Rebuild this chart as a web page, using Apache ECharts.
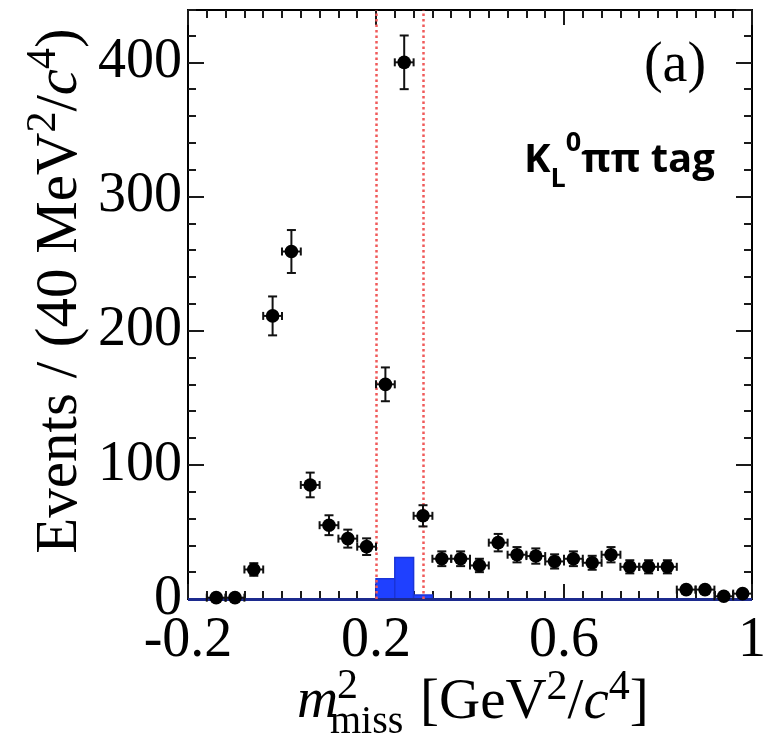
<!DOCTYPE html>
<html><head><meta charset="utf-8">
<script src="https://cdn.jsdelivr.net/npm/echarts@6/dist/echarts.min.js"></script>
<style>html,body{margin:0;padding:0;background:#fff}#chart{width:769px;height:741px}</style>
</head><body><div id="chart"></div>
<script>
// ---- data ----
const binCenters = [-0.14, -0.10, -0.06, -0.02, 0.02, 0.06, 0.10, 0.14, 0.18, 0.22, 0.26, 0.30, 0.34, 0.38, 0.42, 0.46, 0.50, 0.54, 0.58, 0.62, 0.66, 0.70, 0.74, 0.78, 0.82, 0.86, 0.90, 0.94, 0.98];
const counts     = [1, 1, 22, 211, 259, 85, 55, 45, 39, 160, 400, 62, 30, 30, 25, 42, 33, 32, 28, 30, 27, 33, 24, 24, 24, 7, 7, 2, 4];
const countErrors= [1, 1, 4.7, 14.5, 16, 9.2, 7.4, 6.7, 6.2, 12.6, 20, 7.9, 5.5, 5.5, 5, 6.5, 5.7, 5.7, 5.3, 5.5, 5.2, 5.7, 4.9, 4.9, 4.9, 2.6, 2.6, 1.4, 2];
const binHalfWidth = 0.02;
const histLowEdges = [-0.2, -0.16, -0.12, -0.08, -0.04, 0, 0.04, 0.08, 0.12, 0.16, 0.2, 0.24, 0.28, 0.32, 0.36, 0.4, 0.44, 0.48, 0.52, 0.56, 0.6, 0.64, 0.68, 0.72, 0.76, 0.8, 0.84, 0.88, 0.92, 0.96];
const histCounts   = [0, 0, 0, 0, 0, 0, 0, 0, 0, 0, 15, 31, 3, 0, 0, 0, 0, 0, 0, 0, 0, 0, 0, 0, 0, 0, 0, 0, 0, 0];
const histBinWidth = 0.04;
const signalWindow = [0.2, 0.3];
const xMin = -0.2, xMax = 1.0, xMajor = 0.4, xMinor = 0.04;
const yMin = 0, yMax = 439, yMajor = 100, yMinor = 20;

const SERIF = 'Liberation Serif';
const chart = echarts.init(document.getElementById('chart'));

function renderHist(params, api) {
  const h = api.value(2);
  if (!h) return null;
  const p0 = api.coord([api.value(0), h]);
  const p1 = api.coord([api.value(1), 0]);
  return {type: 'rect', shape: {x: p0[0], y: p0[1], width: p1[0] - p0[0], height: p1[1] - p0[1]},
          style: {fill: '#1f40ff', stroke: '#1a34d8', lineWidth: 1.5}};
}
function renderPoint(params, api) {
  const x = api.value(0), y = api.value(1), e = api.value(2);
  const c = api.coord([x, y]);
  const t = api.coord([x, y + e]), b = api.coord([x, y - e]);
  const l = api.coord([x - binHalfWidth, y]), r = api.coord([x + binHalfWidth, y]);
  const s = {stroke: '#111', lineWidth: 2};
  const cap = 4.5, hcap = 4;
  return {type: 'group', children: [
    {type: 'line', shape: {x1: t[0], y1: t[1], x2: b[0], y2: b[1]}, style: s},
    {type: 'line', shape: {x1: t[0] - cap, y1: t[1], x2: t[0] + cap, y2: t[1]}, style: s},
    {type: 'line', shape: {x1: b[0] - cap, y1: b[1], x2: b[0] + cap, y2: b[1]}, style: s},
    {type: 'line', shape: {x1: l[0], y1: l[1], x2: r[0], y2: r[1]}, style: s},
    {type: 'line', shape: {x1: l[0], y1: l[1] - hcap, x2: l[0], y2: l[1] + hcap}, style: s},
    {type: 'line', shape: {x1: r[0], y1: r[1] - hcap, x2: r[0], y2: r[1] + hcap}, style: s},
    {type: 'circle', shape: {cx: c[0], cy: c[1], r: 6.8}, style: {fill: '#000'}}
  ]};
}

const lineBlack = {color: '#000', width: 2};
function xAx(pos, interval, tickLen, showLabel) {
  return {type: 'value', position: pos, min: xMin, max: xMax, interval: interval,
    axisLine: {show: true, onZero: false, lineStyle: lineBlack},
    axisTick: {show: true, inside: true, length: tickLen, lineStyle: {color: '#1a1a1a', width: 2}},
    splitLine: {show: false},
    axisLabel: {show: showLabel, fontFamily: SERIF, fontSize: 56, color: '#000', margin: 14}};
}
function yAx(pos, interval, tickLen, showLabel) {
  return {type: 'value', position: pos, min: yMin, max: yMax, interval: interval,
    axisLine: {show: true, onZero: false, lineStyle: lineBlack},
    axisTick: {show: true, inside: true, length: tickLen, lineStyle: {color: '#1a1a1a', width: 2}},
    splitLine: {show: false},
    axisLabel: {show: showLabel, showMaxLabel: false, fontFamily: SERIF, fontSize: 56, color: '#000', margin: 6}};
}

const supStyle = {fontFamily: SERIF, fontSize: 42, lineHeight: 42, verticalAlign: 'top', fill: '#000'};
chart.setOption({
  animation: false,
  backgroundColor: '#fff',
  grid: {left: 188, right: 8, top: 10, bottom: 142, containLabel: false},
  xAxis: [xAx('bottom', xMajor, 15, true), xAx('bottom', xMinor, 8, false), xAx('top', xMajor, 15, false), xAx('top', xMinor, 8, false)],
  yAxis: [yAx('left', yMajor, 16, true), yAx('left', yMinor, 8, false), yAx('right', yMajor, 16, false), yAx('right', yMinor, 8, false)],
  series: [
    {type: 'custom', name: 'hist', z: 2, renderItem: renderHist, xAxisIndex: 0, yAxisIndex: 0,
     data: histLowEdges.map((x, i) => [x, x + histBinWidth, histCounts[i]]),
     markLine: {silent: true, symbol: 'none', label: {show: false}, animation: false,
       data: [
         {yAxis: 0, lineStyle: {color: '#1c2a8e', width: 3, type: 'solid'}},
         {xAxis: signalWindow[0], lineStyle: {color: '#f05a5a', width: 2.5, type: [2.5, 3]}},
         {xAxis: signalWindow[1], lineStyle: {color: '#f05a5a', width: 2.5, type: [2.5, 3]}}
       ]}},
    {type: 'custom', name: 'data', z: 10, renderItem: renderPoint, xAxisIndex: 0, yAxisIndex: 0,
     data: binCenters.map((x, i) => [x, counts[i], countErrors[i]])}
  ],
  graphic: [
    {type: 'text', x: 675, y: 66, style: {text: '(a)', fontFamily: SERIF, fontSize: 56, fill: '#000', align: 'center', verticalAlign: 'middle'}},
    {type: 'text', x: 524, y: 161, style: {
      text: '{m|K}{sub|L}{sup|0}{m|ππ tag}', align: 'left', verticalAlign: 'middle',
      rich: {
        m: {fontFamily: 'Open Sans', fontWeight: 'bold', fontSize: 40, lineHeight: 63, verticalAlign: 'middle', fill: '#000'},
        sub: {fontFamily: 'Open Sans', fontWeight: 'bold', fontSize: 27, lineHeight: 27, verticalAlign: 'bottom', fill: '#000'},
        sup: {fontFamily: 'Open Sans', fontWeight: 'bold', fontSize: 27, lineHeight: 27, verticalAlign: 'top', fill: '#000'}
      }}},
    {type: 'text', x: 60, y: 291, rotation: Math.PI / 2, style: {
      text: '{m|Events / (40 MeV}{sup|2}{m|/}{it|c}{sup|4}{m|)}', align: 'center', verticalAlign: 'middle',
      rich: {
        m: {fontFamily: SERIF, fontSize: 59, lineHeight: 75, verticalAlign: 'middle', fill: '#000'},
        it: {fontFamily: SERIF, fontStyle: 'italic', fontSize: 59, lineHeight: 75, verticalAlign: 'middle', fill: '#000'},
        sup: supStyle
      }}},
    {type: 'text', x: 297, y: 702, style: {text: 'm', fontFamily: SERIF, fontStyle: 'italic', fontSize: 57, fill: '#000', align: 'left', verticalAlign: 'middle'}},
    {type: 'text', x: 337, y: 687, style: {text: '2', fontFamily: SERIF, fontSize: 42, fill: '#000', align: 'left', verticalAlign: 'middle'}},
    {type: 'text', x: 330, y: 722, style: {text: 'miss', fontFamily: SERIF, fontSize: 40, fill: '#000', align: 'left', verticalAlign: 'middle'}},
    {type: 'text', x: 420, y: 703, style: {
      text: '{m|[GeV}{sup|2}{m|/}{it|c}{sup|4}{m|]}', align: 'left', verticalAlign: 'middle',
      rich: {
        m: {fontFamily: SERIF, fontSize: 57, lineHeight: 72, verticalAlign: 'middle', fill: '#000'},
        it: {fontFamily: SERIF, fontStyle: 'italic', fontSize: 57, lineHeight: 72, verticalAlign: 'middle', fill: '#000'},
        sup: supStyle
      }}}
  ]
});
</script></body></html>
